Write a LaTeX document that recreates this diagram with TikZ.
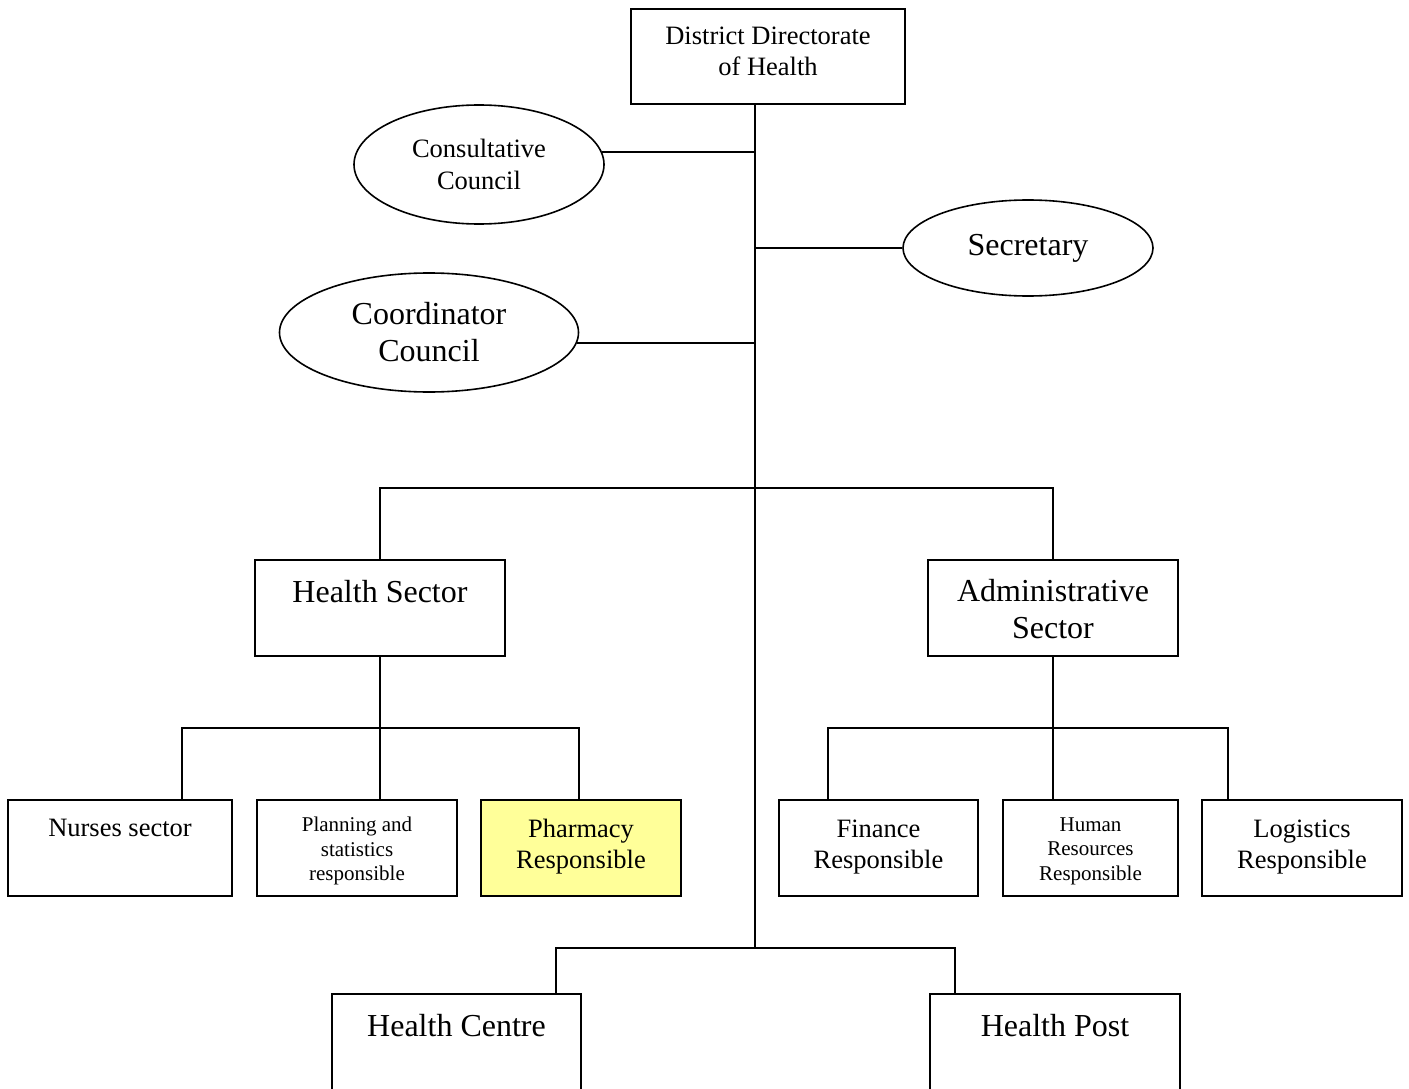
\documentclass[tikz,border=0pt]{standalone}
\usepackage{fontspec}
\setmainfont{Liberation Serif}
\usetikzlibrary{shapes.geometric}

% text sizes used in the chart
\newcommand\fszS{\fontsize{21}{24.5}\selectfont}
\newcommand\fszM{\fontsize{26.5}{31.5}\selectfont}
\newcommand\fszL{\fontsize{32}{37}\selectfont}

\definecolor{pharmyellow}{HTML}{FFFF99}

\tikzset{
  unitbox/.style={draw, line width=1.8pt, rectangle, inner sep=0pt, fill=white},
  council/.style={draw, line width=1.6pt, ellipse, inner sep=0pt, align=center, fill=white},
  txt/.style={anchor=north, align=center, inner sep=0pt},
  link/.style={line width=1.8pt},
}

\begin{document}
\begin{tikzpicture}[x=1pt, y=-1pt]
\useasboundingbox (0,0) rectangle (1409,1089);
\clip (0,0) rectangle (1409,1089);

% ---- top level and advisory bodies ----
\node[unitbox, minimum width=274pt, minimum height=95pt] (ddh) at (768,56.5) {};
\node[txt, font=\fszM] (ddh-t) at ([yshift=-18.5pt]ddh.north) {District Directorate\\of Health};

\node[council, minimum width=250pt, minimum height=119pt, font=\fszM] (cons) at (479,164.5) {Consultative\\Council};
\node[council, minimum width=250pt, minimum height=96pt, font=\fszL] (sec) at (1028,248) {Secretary};
\node[council, minimum width=299pt, minimum height=119pt, font=\fszL] (coord) at (429,332.5) {Coordinator\\Council};

% ---- sectors ----
\node[unitbox, minimum width=250pt, minimum height=96pt] (hs) at (380,608) {};
\node[txt, font=\fszL] (hs-t) at ([yshift=-21pt]hs.north) {Health Sector};
\node[unitbox, minimum width=250pt, minimum height=96pt] (as) at (1053,608) {};
\node[txt, font=\fszL] (as-t) at ([yshift=-20pt]as.north) {Administrative\\Sector};

% ---- units of the health sector ----
\node[unitbox, minimum width=224pt, minimum height=96pt] (nurses) at (120,848) {};
\node[txt, font=\fszM] (nurses-t) at ([yshift=-20pt]nurses.north) {Nurses sector};
\node[unitbox, minimum width=200pt, minimum height=96pt] (plan) at (357,848) {};
\node[txt, font=\fszS] (plan-t) at ([yshift=-18pt]plan.north) {Planning and\\statistics\\responsible};
\node[unitbox, fill=pharmyellow, minimum width=200pt, minimum height=96pt] (pharm) at (581,848) {};
\node[txt, font=\fszM] (pharm-t) at ([yshift=-19.5pt]pharm.north) {Pharmacy\\Responsible};

% ---- units of the administrative sector ----
\node[unitbox, minimum width=199pt, minimum height=96pt] (fin) at (878.5,848) {};
\node[txt, font=\fszM] (fin-t) at ([yshift=-20.5pt]fin.north) {Finance\\Responsible};
\node[unitbox, minimum width=175pt, minimum height=96pt] (hr) at (1090.5,848) {};
\node[txt, font=\fszS] (hr-t) at ([yshift=-18pt]hr.north) {Human\\Resources\\Responsible};
\node[unitbox, minimum width=200pt, minimum height=96pt] (logi) at (1302,848) {};
\node[txt, font=\fszM] (logi-t) at ([yshift=-20.5pt]logi.north) {Logistics\\Responsible};

% ---- peripheral facilities ----
\node[unitbox, minimum width=249pt, minimum height=130pt] (hc) at (456.5,1059) {};
\node[txt, font=\fszL] (hc-t) at ([yshift=-21pt]hc.north) {Health Centre};
\node[unitbox, minimum width=250pt, minimum height=130pt] (hp) at (1055,1059) {};
\node[txt, font=\fszL] (hp-t) at ([yshift=-21pt]hp.north) {Health Post};

% ---- connectors ----
\coordinate (trunkend) at (755,948);
\coordinate (consrow) at (755,152);
\coordinate (secbus) at (755,488);
\coordinate (hbus) at (380,728);
\coordinate (abus) at (1053,728);

\draw[link] (ddh.south -| trunkend) -- (trunkend);
\draw[link] (cons.6 |- consrow) -- (consrow);
\draw[link] (sec.west) -- (sec.west -| trunkend);
\draw[link] (coord.-4.8) -- (coord.-4.8 -| trunkend);

\draw[link] (hs.north) -- (hs.north |- secbus) -- (as.north |- secbus) -- (as.north);

\draw[link] (hs.south) -- (hbus);
\draw[link] ([xshift=62pt]nurses.north) |- (hbus) -| ([xshift=-2pt]pharm.north);
\draw[link] (hbus) -- (hbus |- plan.north);

\draw[link] (as.south) -- (abus);
\draw[link] ([xshift=-50.5pt]fin.north) |- (abus) -| ([xshift=-74pt]logi.north);
\draw[link] (abus) -- (abus |- hr.north);

\draw[link] ([xshift=99.5pt]hc.north) |- (trunkend) -| ([xshift=-100pt]hp.north);
\end{tikzpicture}
\end{document}
